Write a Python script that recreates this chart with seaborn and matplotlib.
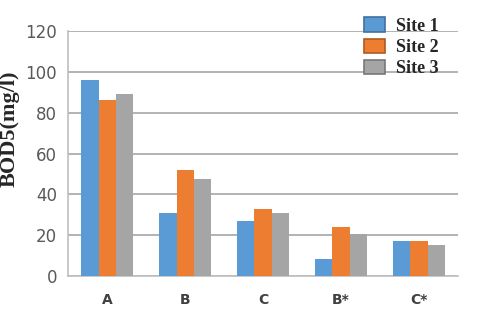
import matplotlib
matplotlib.use('Agg')
import matplotlib.pyplot as plt
import pandas as pd
import seaborn as sns

# data
categories = ['A', 'B', 'C', 'B*', 'C*']
sites = ['Site 1', 'Site 2', 'Site 3']
site1 = [96, 31, 27, 8.5, 17]
site2 = [86, 52, 33, 24, 17]
site3 = [89, 47.5, 31, 20.5, 15.3]

df = pd.DataFrame({
    'cat': categories * 3,
    'site': [s for s in sites for _ in categories],
    'bod': site1 + site2 + site3,
})

sns.set_style('white')
palette = ['#5B9BD5', '#ED7D31', '#A5A5A5']

fig = plt.figure(figsize=(4.8, 3.27), dpi=100)
ax = fig.add_axes([0.142, 0.156, 0.812, 0.749])
sns.barplot(data=df, x='cat', y='bod', hue='site', palette=palette,
            width=0.66, saturation=1, linewidth=0, ax=ax, zorder=3)

ax.set_ylim(0, 120)
ax.set_yticks(range(0, 121, 20))
ax.grid(axis='y', color='#A6A6A6', lw=1.2, zorder=0)
for s in ['top', 'right']:
    ax.spines[s].set_visible(False)
for s in ['left', 'bottom']:
    ax.spines[s].set_color('#BFBFBF')
    ax.spines[s].set_linewidth(1.2)
ax.tick_params(axis='y', labelsize=12, labelcolor='#595959', length=0, pad=8)
ax.tick_params(axis='x', labelsize=10, length=0, pad=12)
for t in ax.get_xticklabels():
    t.set_fontweight('bold')
    t.set_color('#404040')
ax.set_xlabel('')
ax.set_ylabel('BOD5(mg/l)', family='Liberation Serif', fontweight='bold',
              fontsize=16)
ax.yaxis.set_label_coords(-0.125, 0.6)

handles, labels = ax.get_legend_handles_labels()
edges = ['#41719C', '#AE5A21', '#787878']
for h, e in zip(handles, edges):
    h.set_edgecolor(e)
    h.set_linewidth(1.2)
ax.legend(handles, labels, loc='upper left', bbox_to_anchor=(0.74, 1.085),
          frameon=False, prop={'family': 'Liberation Serif', 'weight': 'bold', 'size': 13},
          handlelength=1.2, handleheight=0.85, labelspacing=0.2, handletextpad=0.6,
          borderaxespad=0)

fig.savefig('out.png', dpi=100)
